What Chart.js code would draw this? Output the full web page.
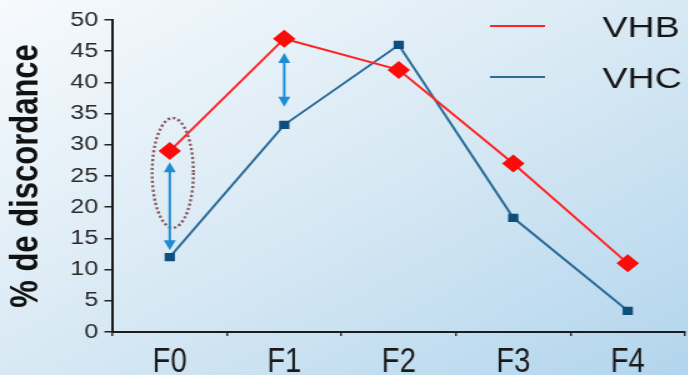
<!DOCTYPE html>
<html><head><meta charset="utf-8">
<script src="https://cdn.jsdelivr.net/npm/chart.js@4.4.0/dist/chart.umd.min.js"></script>
<style>
html,body{margin:0;padding:0;background:#fff;}
#outer{width:688px;height:375px;overflow:hidden;position:relative;background:linear-gradient(to bottom right,#f7fafd 0%,#d8e9f4 50%,#b2d5ed 100%);}
#inner{position:absolute;left:0;top:0;width:557px;height:375px;transform:scaleX(1.25);transform-origin:0 0;}
canvas{display:block;}
</style></head><body>
<div id="outer"><div id="inner"><canvas id="c" width="557" height="375"></canvas></div></div>
<script>
// ---- data ----
const categories = ['F0', 'F1', 'F2', 'F3', 'F4'];
const seriesNames = ['VHB', 'VHC'];
const vhbValues = [29, 47, 42, 27, 11];
const vhcValues = [12, 33.2, 46, 18.3, 3.4];
const yTickValues = [0, 5, 10, 15, 20, 25, 30, 35, 40, 45, 50];
const yTitle = '% de discordance';
// annotation arrows: category index, top value, bottom value
const arrowCategory = [0, 1];
const arrowTop = [27.2, 44.7];
const arrowBottom = [13.1, 36.1];
// dotted ellipse around F0: category index, low value, high value
const ellipseCategory = 0;
const ellipseLow = 16.7;
const ellipseHigh = 34.3;

const FONT = '"Liberation Sans", Arial, Helvetica, sans-serif';

const xLabelPlugin = {
  id: 'xLabels',
  afterDraw(chart) {
    const ctx = chart.ctx, xs = chart.scales.x;
    ctx.save();
    ctx.font = '35px ' + FONT;
    ctx.fillStyle = '#1a1a1a';
    ctx.textAlign = 'center';
    ctx.textBaseline = 'alphabetic';
    chart.data.labels.forEach((lab, i) => {
      const x = xs.getPixelForValue(i);
      ctx.save();
      ctx.translate(x, 372);
      ctx.scale(0.67, 1);
      ctx.fillText(lab, 0, 0);
      ctx.restore();
    });
    ctx.restore();
  }
};

const annotPlugin = {
  id: 'annot',
  afterDatasetsDraw(chart) {
    const ctx = chart.ctx, xs = chart.scales.x, ys = chart.scales.y;
    ctx.save();
    // dotted ellipse
    const ex = xs.getPixelForValue(ellipseCategory) + 2.4;
    const yTop = ys.getPixelForValue(ellipseHigh), yBot = ys.getPixelForValue(ellipseLow);
    ctx.beginPath();
    ctx.ellipse(ex, (yTop + yBot) / 2, 16.5, (yBot - yTop) / 2, 0, 0, Math.PI * 2);
    ctx.strokeStyle = '#8b5b5e';
    ctx.lineWidth = 2.4;
    ctx.setLineDash([2.2, 2.2]);
    ctx.stroke();
    ctx.setLineDash([]);
    // double arrows
    ctx.strokeStyle = '#1e8bd3';
    ctx.fillStyle = '#1e8bd3';
    arrowCategory.forEach((c, i) => {
      const x = xs.getPixelForValue(c);
      const t = ys.getPixelForValue(arrowTop[i]);
      const b = ys.getPixelForValue(arrowBottom[i]);
      const hw = 4.8, hh = 10;
      ctx.lineWidth = 2;
      ctx.beginPath();
      ctx.moveTo(x, t + hh - 1);
      ctx.lineTo(x, b - hh + 1);
      ctx.stroke();
      ctx.beginPath();
      ctx.moveTo(x, t); ctx.lineTo(x - hw, t + hh); ctx.lineTo(x + hw, t + hh); ctx.closePath();
      ctx.fill();
      ctx.beginPath();
      ctx.moveTo(x, b); ctx.lineTo(x - hw, b - hh); ctx.lineTo(x + hw, b - hh); ctx.closePath();
      ctx.fill();
    });
    ctx.restore();
  }
};

const legendPlugin = {
  id: 'lineLegend',
  afterDraw(chart) {
    const ctx = chart.ctx;
    ctx.save();
    ctx.font = '30px ' + FONT;
    ctx.textAlign = 'left';
    ctx.textBaseline = 'alphabetic';
    chart.data.datasets.forEach((ds, i) => {
      const y = 26 + i * 51;
      ctx.strokeStyle = ds.borderColor;
      ctx.lineWidth = 2;
      ctx.beginPath();
      ctx.moveTo(392, y);
      ctx.lineTo(436, y);
      ctx.stroke();
      ctx.fillStyle = '#161616';
      ctx.fillText(ds.label, 482, y + 11);
    });
    ctx.restore();
  }
};

new Chart(document.getElementById('c'), {
  type: 'line',
  data: {
    labels: categories,
    datasets: [
      {
        label: seriesNames[0],
        data: vhbValues,
        borderColor: '#ff2424',
        borderWidth: 2,
        pointStyle: 'rectRot',
        pointRadius: 9,
        pointHoverRadius: 9,
        pointBackgroundColor: '#ff0a0a',
        pointBorderColor: '#ff0a0a',
        pointBorderWidth: 0,
        tension: 0
      },
      {
        label: seriesNames[1],
        data: vhcValues,
        borderColor: '#2a6c99',
        borderWidth: 2,
        pointStyle: 'rect',
        pointRadius: 5.8,
        pointHoverRadius: 5.8,
        pointBackgroundColor: '#0c4e7c',
        pointBorderColor: '#0c4e7c',
        pointBorderWidth: 0,
        tension: 0
      }
    ]
  },
  options: {
    responsive: false,
    animation: false,
    devicePixelRatio: 1,
    layout: { padding: { top: 20, left: 0, right: 0, bottom: 0 } },
    plugins: { legend: { display: false }, tooltip: { enabled: false } },
    scales: {
      x: {
        offset: true,
        grid: { offset: true, drawOnChartArea: false, drawTicks: true, tickLength: 4, color: '#333', lineWidth: 1.5 },
        border: { display: true, color: '#1c1c1c', width: 2 },
        ticks: { display: false },
        afterFit(s) { s.height = 43; }
      },
      y: {
        min: 0, max: 50,
        afterBuildTicks(s) { s.ticks = yTickValues.map(v => ({ value: v })); },
        grid: { drawOnChartArea: false, drawTicks: true, tickLength: 6.5, color: '#222', lineWidth: 1.5 },
        border: { display: true, color: '#1c1c1c', width: 2 },
        ticks: { font: { family: FONT, size: 20 }, color: '#2a2a2a', padding: 5 },
        title: { display: true, text: yTitle, font: { family: FONT, size: 31, weight: 'bold' }, color: '#111', padding: { top: 3, bottom: 0 } },
        afterFit(s) { s.width = 90; }
      }
    }
  },
  plugins: [annotPlugin, xLabelPlugin, legendPlugin]
});
</script>
</body></html>
